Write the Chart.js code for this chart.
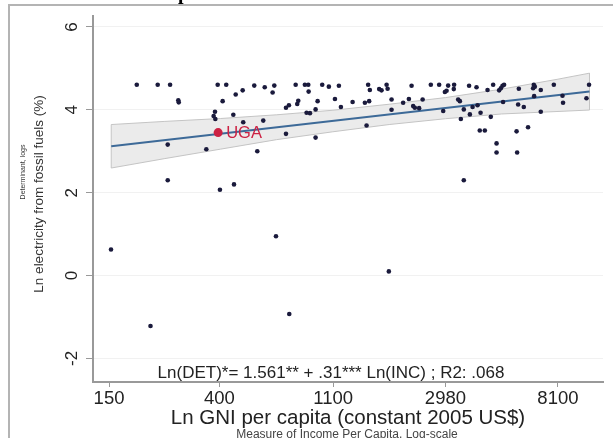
<!DOCTYPE html>
<html>
<head>
<meta charset="utf-8">
<script src="https://cdn.jsdelivr.net/npm/chart.js@4/dist/chart.umd.min.js"></script>
<style>
  html, body { margin: 0; padding: 0; background: #fff; }
</style>
</head>
<body>
<canvas id="chart" width="613" height="438"></canvas>
<script>
// tick labels (x axis is ln of GNI per capita, labelled in US$)
const xTickLabels = [150, 400, 1100, 2980, 8100];
const yTicks = [-2, 0, 2, 4, 6];

// countries: ln GNI per capita / ln electricity from fossil fuels
const countryX = [5.257, 5.443, 5.553, 5.626, 5.63, 5.976, 6.052, 6.020, 5.952, 5.940, 5.955, 6.115, 6.136, 6.198,
  6.301, 6.394, 6.479, 6.464, 6.203, 6.381, 5.532, 5.875, 6.328, 6.583, 6.846, 5.532, 5.996, 6.121, 6.583, 6.609,
  6.669, 6.751, 6.781, 6.784, 6.692, 6.683, 6.766, 6.796, 6.846, 6.864, 6.905, 6.964, 7.053, 7.018, 7.071,
  7.313, 7.328, 7.411, 7.432, 7.477, 7.486, 7.699, 7.870, 7.944, 8.024, 8.077, 8.074, 8.010, 7.995, 8.210,
  8.276, 8.374, 8.424, 8.477, 8.492, 8.507, 8.521, 8.652, 8.785, 8.794, 8.779, 8.847, 8.963, 9.276,
  7.175, 7.284, 7.322, 7.521, 7.521, 7.624, 7.675, 7.713, 7.728, 7.766, 7.797, 7.980, 8.113, 8.128, 8.163,
  8.137, 8.217, 8.241, 8.285, 8.312, 8.403, 8.512, 8.646, 8.696, 8.788, 8.847, 9.040, 9.045, 9.253,
  7.299, 8.305, 8.350, 8.632, 8.734, 8.454, 8.454, 8.637, 8.163, 5.028, 6.494, 7.497, 5.379, 6.612];
const countryY = [4.605, 4.605, 4.605, 4.23, 4.18, 4.605, 4.605, 4.21, 3.955, 3.85, 3.78, 3.88, 4.37, 4.47,
  4.585, 4.545, 4.585, 4.42, 3.70, 3.74, 3.16, 3.05, 3.00, 3.42, 3.33, 2.30, 2.07, 2.20, 4.05, 4.11,
  4.605, 4.605, 4.605, 4.44, 4.22, 4.14, 3.93, 3.92, 4.01, 4.21, 4.605, 4.56, 4.58, 4.26, 4.07,
  4.605, 4.48, 4.50, 4.47, 4.605, 4.51, 4.58, 4.605, 4.605, 4.585, 4.605, 4.50, 4.46, 4.43, 4.58,
  4.545, 4.48, 4.605, 4.47, 4.52, 4.58, 4.605, 4.51, 4.605, 4.56, 4.52, 4.48, 4.605, 4.605,
  4.19, 4.17, 4.21, 4.25, 4.00, 4.17, 4.26, 4.09, 4.05, 4.04, 4.25, 3.97, 4.25, 4.21, 4.01,
  3.78, 3.89, 4.07, 4.11, 3.93, 3.83, 4.19, 4.13, 4.07, 4.33, 3.955, 4.34, 4.17, 4.28,
  3.62, 3.50, 3.50, 3.48, 3.58, 3.19, 2.97, 2.97, 2.30, 0.63, 0.95, 0.10, -1.22, -0.93];

// highlighted country
const ugaLabel = "UGA";
const ugaX = 5.98;
const ugaY = 3.45;

// fitted line and its confidence band
const fitX = [5.03, 9.28];
const fitY = [3.12, 4.44];
const bandX = [5.03, 5.5, 6.0, 6.5, 7.0, 7.5, 8.0, 8.5, 9.0, 9.28];
const bandUpper = [3.645, 3.72, 3.79, 3.88, 3.99, 4.135, 4.295, 4.50, 4.74, 4.885];
const bandLower = [2.595, 2.82, 3.05, 3.28, 3.47, 3.645, 3.785, 3.90, 3.96, 3.995];

const equation = "Ln(DET)*= 1.561** + .31*** Ln(INC) ; R2: .068";

const toPts = (xs, ys) => xs.map((x, i) => ({ x: x, y: ys[i] }));
const upperPts = toPts(bandX, bandUpper);
const lowerPts = toPts(bandX, bandLower);
const outlinePts = upperPts.concat(lowerPts.slice().reverse(), [upperPts[0]]);

const FONT = "'Liberation Sans', Arial, sans-serif";

const decor = {
  id: "decor",
  afterDraw(chart) {
    const c = chart.ctx;
    const xs = chart.scales.x, ys = chart.scales.y;
    c.save();
    // outer graph region frame
    c.strokeStyle = "#b4b4b4";
    c.lineWidth = 2;
    c.strokeRect(9, 5, 700, 500);
    // cut-off glyph of a heading above the picture
    c.fillStyle = "#000";
    c.font = "bold 20px 'Liberation Serif', serif";
    c.textAlign = "left";
    c.textBaseline = "alphabetic";
    c.fillText("p", 178, -1);

    // y titles
    c.fillStyle = "#333";
    c.textAlign = "center";
    c.textBaseline = "middle";
    c.save();
    c.translate(39, 194);
    c.rotate(-Math.PI / 2);
    c.font = "13.5px " + FONT;
    c.fillText("Ln electricity from fossil fuels (%)", 0, 0);
    c.restore();
    c.save();
    c.translate(23, 172);
    c.rotate(-Math.PI / 2);
    c.font = "7px " + FONT;
    c.fillText("Determinant, logs", 0, 0);
    c.restore();

    // x titles
    c.fillStyle = "#222";
    c.font = "20.5px " + FONT;
    c.fillText("Ln GNI per capita (constant 2005 US$)", 348, 418);
    c.fillStyle = "#444";
    c.font = "12px " + FONT;
    c.fillText("Measure of Income Per Capita, Log-scale", 347, 435);

    // regression equation
    c.fillStyle = "#222";
    c.font = "17px " + FONT;
    c.fillText(equation, 331, 373);

    // UGA label
    c.fillStyle = "#cc2244";
    c.font = "16.5px " + FONT;
    c.textAlign = "left";
    c.fillText(ugaLabel, xs.getPixelForValue(ugaX) + 8, ys.getPixelForValue(ugaY) + 1);
    c.restore();
  }
};

new Chart(document.getElementById("chart"), {
  type: "scatter",
  data: {
    datasets: [
      { data: [{ x: ugaX, y: ugaY }], pointRadius: 4.5, backgroundColor: "#cc2244", borderWidth: 0 },
      { data: toPts(countryX, countryY), pointRadius: 2.3, backgroundColor: "#1a1a3c", borderWidth: 0 },
      { data: toPts(fitX, fitY), showLine: true, pointRadius: 0, borderColor: "#3d6a98", borderWidth: 2 },
      { data: outlinePts, showLine: true, pointRadius: 0, borderColor: "#c4c4c4", borderWidth: 1 },
      { data: upperPts, showLine: true, pointRadius: 0, borderWidth: 0, fill: "+1", backgroundColor: "#ebebeb" },
      { data: lowerPts, showLine: true, pointRadius: 0, borderWidth: 0 }
    ]
  },
  options: {
    responsive: false,
    animation: false,
    layout: { padding: { left: 0, right: 10, top: 8, bottom: 0 } },
    plugins: { legend: { display: false }, tooltip: { enabled: false } },
    scales: {
      x: {
        type: "linear",
        min: 4.868,
        max: 9.40,
        afterBuildTicks: s => { s.ticks = xTickLabels.map(v => ({ value: Math.log(v) })); },
        afterFit: s => { s.height = 56; },
        border: { color: "#999", width: 2 },
        grid: { drawOnChartArea: false, tickLength: 5, tickColor: "#999" },
        ticks: {
          callback: (v, i) => xTickLabels[i],
          color: "#222",
          padding: 1,
          maxRotation: 0,
          font: { family: FONT, size: 18.5 }
        }
      },
      y: {
        min: -2.57,
        max: 6.26,
        afterBuildTicks: s => { s.ticks = yTicks.map(v => ({ value: v })); },
        afterFit: s => { s.width = 93; },
        border: { color: "#999", width: 2 },
        grid: { color: "#f1f1f1", tickLength: 7, tickColor: "#999" },
        ticks: {
          color: "#222",
          minRotation: 90,
          maxRotation: 90,
          crossAlign: "center",
          padding: 6,
          font: { family: FONT, size: 17 }
        }
      }
    }
  },
  plugins: [decor]
});
</script>
</body>
</html>
